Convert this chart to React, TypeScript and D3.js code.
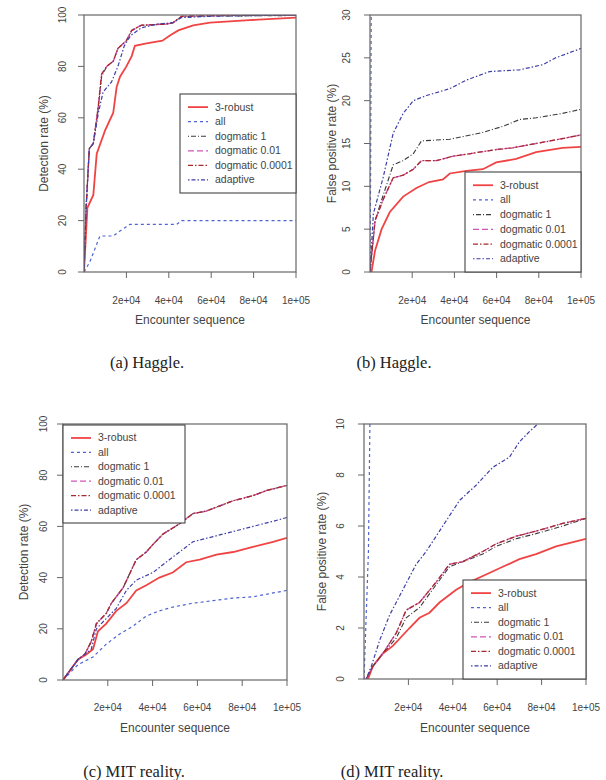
import React from 'react';
import * as d3 from 'd3';

// series values, [encounter, rate %]
const aRobust = [[0, 0], [1600, 25], [4400, 30], [6000, 46], [9900, 55], [13800, 62], [15400, 72], [17000, 76], [20000, 80], [22500, 84], [24000, 88], [29500, 89], [37000, 90], [40500, 92], [44500, 94], [51500, 96], [59400, 97], [78000, 98], [100000, 99]];
const aAll = [[0, 0], [2800, 4], [7500, 14], [13800, 14], [17000, 16], [21700, 18.5], [43700, 18.5], [46000, 20], [100000, 20]];
const aDog1 = [[0, 0], [1000, 25], [2500, 48], [4400, 50], [6800, 64], [8300, 76], [10700, 80], [13800, 82], [16000, 87], [20000, 90], [22500, 94], [27000, 96], [39000, 96.5], [42000, 97], [46000, 99.3], [60000, 99.6], [100000, 99.8]];
const aDog = [[0, 0], [1000, 25], [2500, 48], [4400, 50], [6800, 65], [8300, 77], [10700, 80], [13800, 82], [16000, 87], [20000, 90], [22500, 94], [27000, 96], [39000, 96.5], [42000, 97], [46000, 99.5], [60000, 99.8], [100000, 100]];
const aAdaptive = [[0, 0], [1000, 25], [2500, 48], [4400, 50], [6800, 62], [9000, 70], [13000, 74], [16000, 80], [19000, 88], [22000, 92], [27000, 95], [35000, 96.5], [42000, 97], [46000, 99], [60000, 99.5], [100000, 100]];

const bAll = [[0, 0], [300, 12], [600, 32]];
const bAdaptive = [[0, 0], [1600, 6.8], [6300, 11.1], [11000, 16.2], [15700, 18.5], [20500, 20], [26800, 20.6], [37800, 21.4], [45700, 22.4], [56700, 23.4], [70900, 23.6], [81900, 24.2], [88000, 25], [100000, 26.1]];
const bDog1 = [[0, 0], [2400, 6], [6300, 9], [11000, 12.5], [15700, 13], [20500, 13.8], [24400, 15.3], [37800, 15.5], [44000, 15.8], [53500, 16.3], [63000, 17], [70900, 17.8], [78700, 18], [91000, 18.5], [100000, 19]];
const bDog = [[0, 0], [2400, 6], [6300, 8.5], [11000, 11], [15700, 11.3], [20500, 12], [24400, 13], [31500, 13], [39000, 13.5], [47000, 13.8], [60000, 14.3], [67700, 14.5], [78700, 15], [89700, 15.5], [100000, 16]];
const bRobust = [[700, 0], [2400, 2.5], [5500, 5], [9400, 7], [15700, 8.8], [22000, 9.8], [28000, 10.5], [34600, 10.8], [37800, 11.5], [45700, 11.8], [53500, 12], [59800, 12.8], [69300, 13.2], [78700, 14], [91300, 14.5], [100000, 14.6]];

const cDog = [[0, 0], [6700, 8], [9700, 10], [12600, 15], [14900, 22], [19300, 26], [21600, 30], [26800, 36], [32700, 47], [37200, 50], [40200, 53], [44600, 57], [52000, 61], [58000, 65], [64000, 66], [70000, 68], [75900, 70], [84800, 72], [90800, 74], [100000, 76]];
const cAdaptive = [[0, 0], [6700, 8], [12600, 12], [14900, 20], [19300, 24], [23800, 28], [28300, 35], [32700, 39], [40200, 42], [46000, 46], [52000, 50], [58000, 54], [67000, 56], [75900, 58], [84800, 60], [93800, 62], [100000, 63.5]];
const cRobust = [[0, 0], [6700, 8], [10400, 10], [13400, 12], [15600, 19], [19300, 22], [23800, 27], [28300, 30], [32700, 35], [37200, 37], [43000, 40], [49000, 42], [55000, 46], [61000, 47], [68500, 49], [76000, 50], [84800, 52], [93800, 54], [100000, 55.5]];
const cAll = [[0, 0], [6700, 6], [13400, 9], [19300, 14], [25300, 18], [31200, 21], [37200, 25], [43000, 27], [49000, 28.5], [58000, 30], [67000, 31], [76000, 32], [84800, 32.5], [93800, 34], [100000, 35]];

const dAll = [[0, 0], [2000, 5], [2800, 11]];
const dAdaptive = [[1000, 0], [3300, 0.5], [7000, 1.5], [11500, 2.5], [17500, 3.5], [23500, 4.5], [28000, 5], [35500, 6], [43000, 7], [50500, 7.6], [58000, 8.3], [65500, 8.7], [70000, 9.3], [74500, 9.7], [78300, 10], [80000, 10.2]];
const dDog = [[1000, 0], [4000, 0.5], [8500, 1], [14500, 1.8], [19000, 2.7], [25000, 3], [32500, 3.8], [38500, 4.5], [44500, 4.6], [53500, 5], [59500, 5.3], [68500, 5.6], [77500, 5.8], [89500, 6.1], [100000, 6.3]];
const dDog1 = [[1000, 0], [4000, 0.5], [8500, 1], [14500, 1.6], [19000, 2.4], [25000, 2.8], [32500, 3.7], [38500, 4.4], [44500, 4.6], [53500, 4.9], [59500, 5.2], [68500, 5.5], [77500, 5.7], [89500, 6], [100000, 6.3]];
const dRobust = [[1800, 0], [4000, 0.5], [8500, 1], [13000, 1.3], [20500, 2], [25000, 2.4], [29500, 2.6], [34000, 3], [41500, 3.5], [47500, 3.8], [55000, 4.1], [62500, 4.4], [70000, 4.7], [77500, 4.9], [86500, 5.2], [95500, 5.4], [100000, 5.5]];

const seriesNames = ['3-robust', 'all', 'dogmatic 1', 'dogmatic 0.01', 'dogmatic 0.0001', 'adaptive'];
const xTicks = [20000, 40000, 60000, 80000, 100000];
const xTickLabels = ['2e+04', '4e+04', '6e+04', '8e+04', '1e+05'];
const yTicksDetect = [0, 20, 40, 60, 80, 100];
const yTicksFpB = [0, 5, 10, 15, 20, 25, 30];
const yTicksFpD = [0, 2, 4, 6, 8, 10];

const styles = [
  { color: '#f04444', width: 1.8, dash: null },
  { color: '#4f63d2', width: 1.2, dash: '3,3' },
  { color: '#3a3a3a', width: 1.1, dash: '1,2,5,2' },
  { color: '#d055b8', width: 1.3, dash: '6,3' },
  { color: '#a82a2a', width: 1.3, dash: '5,2,1.5,2' },
  { color: '#3f3fa8', width: 1.2, dash: '1.5,2,4,2' },
];

const panels = [
  { id: 'a', box: [84, 15, 296, 272], ymax: 100, yTicks: yTicksDetect, yTitle: 'Detection rate (%)', tickY: 304, titleY: 324, yLabX: 62, yTitleX: 43,
    data: [aRobust, aAll, aDog1, aDog, aDog, aAdaptive], legend: [180, 94, 296, 193], caption: '(a) Haggle.', capX: 147, capY: 368 },
  { id: 'b', box: [370, 15, 581, 272], ymax: 30, yTicks: yTicksFpB, yTitle: 'False positive rate (%)', tickY: 304, titleY: 324, yLabX: 346, yTitleX: 331,
    data: [bRobust, bAll, bDog1, bDog, bDog, bAdaptive], legend: [465, 172, 581, 272], caption: '(b) Haggle.', capX: 394, capY: 368 },
  { id: 'c', box: [63, 424, 287, 680], ymax: 100, yTicks: yTicksDetect, yTitle: 'Detection rate (%)', tickY: 711, titleY: 732, yLabX: 43, yTitleX: 23,
    data: [cRobust, cAll, cDog, cDog, cDog, cAdaptive], legend: [63, 425, 185, 523], caption: '(c) MIT reality.', capX: 134, capY: 777 },
  { id: 'd', box: [364, 424, 586, 679], ymax: 10, yTicks: yTicksFpD, yTitle: 'False positive rate (%)', tickY: 711, titleY: 732, yLabX: 340, yTitleX: 321,
    data: [dRobust, dAll, dDog1, dDog, dDog, dAdaptive], legend: [463, 580, 586, 679], caption: '(d) MIT reality.', capX: 392, capY: 777 },
];

const font = 'Liberation Sans, Arial, sans-serif';

function Panel({ p }) {
  const [x0, y0, x1, y1] = p.box;
  const x = d3.scaleLinear().domain([0, 100000]).range([x0, x1]);
  const y = d3.scaleLinear().domain([0, p.ymax]).range([y1, y0]);
  const line = d3.line<number[]>().x(d => x(d[0])).y(d => y(d[1]));
  const [lx0, ly0, lx1, ly1] = p.legend;
  const rowH = (ly1 - ly0) / 6.8;
  return (
    <g>
      <defs>
        <clipPath id={'clip' + p.id}>
          <rect x={x0} y={y0} width={x1 - x0} height={y1 - y0} />
        </clipPath>
      </defs>
      <g clipPath={`url(#clip${p.id})`}>
        {p.data.map((s, i) => (
          <path key={i} d={line(s) || ''} fill="none" stroke={styles[i].color}
            strokeWidth={styles[i].width} strokeDasharray={styles[i].dash || undefined} />
        ))}
      </g>
      <rect x={x0} y={y0} width={x1 - x0} height={y1 - y0} fill="none" stroke="#666" strokeWidth={1.2} />
      {xTicks.map((t, i) => (
        <g key={t}>
          <line x1={x(t)} x2={x(t)} y1={y1} y2={y1 + 6} stroke="#666" />
          <text x={x(t)} y={p.tickY} textAnchor="middle" fontSize={10} fill="#444" fontFamily={font}>{xTickLabels[i]}</text>
        </g>
      ))}
      {p.yTicks.map(t => (
        <g key={t}>
          <line x1={x0 - 6} x2={x0} y1={y(t)} y2={y(t)} stroke="#666" />
          <text transform={`translate(${p.yLabX + 3.5},${y(t)}) rotate(-90)`} textAnchor="middle" fontSize={10} fill="#444" fontFamily={font}>{t}</text>
        </g>
      ))}
      <text x={(x0 + x1) / 2} y={p.titleY} textAnchor="middle" fontSize={12} fill="#444" fontFamily={font}>Encounter sequence</text>
      <text transform={`translate(${p.yTitleX + 4.5},${(y0 + y1) / 2}) rotate(-90)`} textAnchor="middle" fontSize={12} fill="#444" fontFamily={font}>{p.yTitle}</text>
      <rect x={lx0} y={ly0} width={lx1 - lx0} height={ly1 - ly0} fill="#fff" stroke="#444" strokeWidth={1.1} />
      {seriesNames.map((n, i) => {
        const ry = ly0 + rowH * (i + 0.9);
        return (
          <g key={n}>
            <line x1={lx0 + 8} x2={lx0 + 28} y1={ry} y2={ry} stroke={styles[i].color}
              strokeWidth={styles[i].width} strokeDasharray={styles[i].dash || undefined} />
            <text x={lx0 + 35} y={ry + 3.5} fontSize={10.5} fill="#444" fontFamily={font}>{n}</text>
          </g>
        );
      })}
      <text x={p.capX} y={p.capY} textAnchor="middle" fontSize={16.5} fill="#222" fontFamily="Liberation Serif, Times New Roman, serif">{p.caption}</text>
    </g>
  );
}

export default function App() {
  return (
    <svg width={606} height={780} style={{ position: 'absolute', left: 0, top: 0, background: '#fff' }}>
      <rect width={606} height={780} fill="#fff" />
      {panels.map(p => <Panel key={p.id} p={p} />)}
    </svg>
  );
}
